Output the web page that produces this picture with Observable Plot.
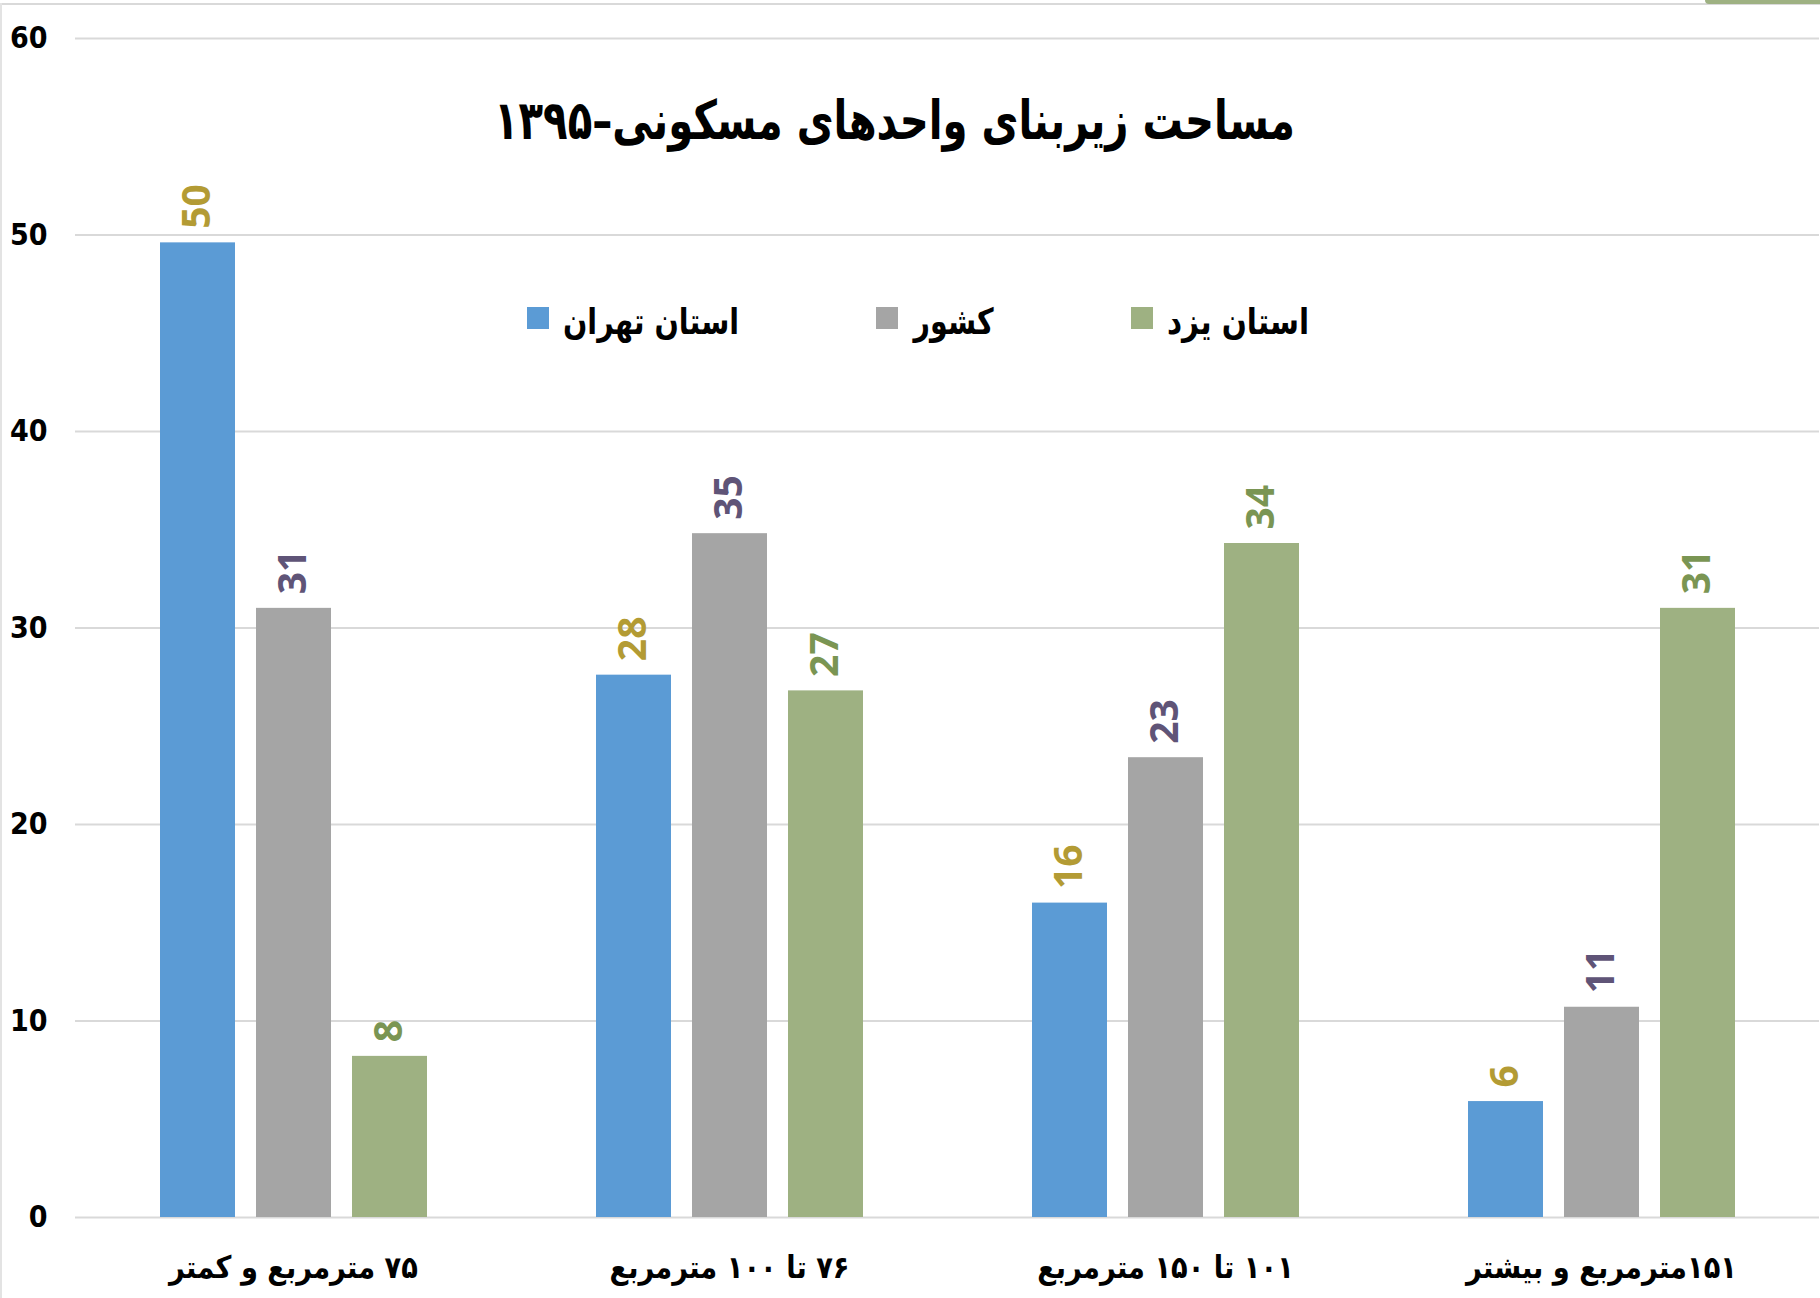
<!DOCTYPE html>
<html>
<head>
<meta charset="utf-8">
<script src="https://cdn.jsdelivr.net/npm/d3@7"></script>
<script src="https://cdn.jsdelivr.net/npm/@observablehq/plot@0.6"></script>
<style>
  html, body { margin: 0; padding: 0; background: #fff; }
  #wrap { position: relative; width: 1820px; height: 1298px; overflow: hidden; }
  #topline { position: absolute; left: 0; top: 3px; width: 1820px; height: 2px; background: #d9d9d9; }
  #leftline { position: absolute; left: 0; top: 3px; width: 2px; height: 1295px; background: #e3e3e3; }
  #corner { position: absolute; left: 1705px; top: 0; width: 120px; height: 4px; background: #9EB182; border-bottom-left-radius: 8px; }
</style>
</head>
<body>
<div id="wrap">
  <div id="chart"></div>
  <div id="topline"></div>
  <div id="leftline"></div>
  <div id="corner"></div>
</div>
<script>
const categories = ["۷۵ مترمربع و کمتر", "۷۶ تا ۱۰۰ مترمربع", "۱۰۱ تا ۱۵۰ مترمربع", "۱۵۱مترمربع و بیشتر"];
const seriesNames = ["استان تهران", "کشور", "استان یزد"];
const tehran = [49.6, 27.6, 16.0, 5.9];
const country = [31.0, 34.8, 23.4, 10.7];
const yazd = [8.2, 26.8, 34.3, 31.0];
const yTicks = [0, 10, 20, 30, 40, 50, 60];
const barColors = ["#5B9BD5", "#A5A5A5", "#9EB182"];
const labelColors = ["#B39B34", "#5F5477", "#7A9553"];
const titleText = "مساحت زیربنای واحدهای مسکونی–۱۳۹۵";

const seriesValues = [tehran, country, yazd];
const data = [];
categories.forEach((c, i) => {
  seriesNames.forEach((s, j) => {
    data.push({cat: c, series: s, value: seriesValues[j][i]});
  });
});
const fmt = d3.format(".0f");

const labelMarks = seriesNames.map((s, j) =>
  Plot.text(data.filter(d => d.series === s), {
    fx: "cat", x: "series", y: "value",
    text: d => fmt(d.value),
    rotate: -90, textAnchor: "start", lineAnchor: "middle", dy: -14,
    fill: labelColors[j], fontSize: 39, fontWeight: "bold",
    fontFamily: "'Open Sans', 'Lato', sans-serif"
  })
);

const chart = Plot.plot({
  width: 1820, height: 1298,
  marginTop: 38, marginBottom: 81, marginLeft: 73, marginRight: 0,
  style: {background: "transparent", fontFamily: "'DejaVu Sans', sans-serif"},
  fx: {domain: categories, padding: 0, label: null, axis: null},
  x: {domain: seriesNames, paddingInner: 0.222, paddingOuter: 0.864, axis: null},
  y: {domain: [0, 60], axis: null},
  color: {domain: seriesNames, range: barColors},
  marks: [
    Plot.gridY(yTicks, {stroke: "#d9d9d9", strokeOpacity: 1, strokeWidth: 2}),
    Plot.axisY(yTicks, {
      tickSize: 0, tickPadding: 28, fontSize: 30, fontWeight: "bold",
      fontFamily: "'Liberation Sans Narrow', 'DejaVu Sans Condensed', sans-serif",
      fill: "#000", label: null
    }),
    Plot.axisFx({
      anchor: "bottom", tickSize: 0, tickPadding: 38, fontSize: 31, fontWeight: "bold",
      fontFamily: "'DejaVu Sans', sans-serif", fill: "#000", label: null
    }),
    Plot.barY(data, {fx: "cat", x: "series", y: "value", fill: "series"}),
    ...labelMarks
  ]
});

document.getElementById("chart").appendChild(chart);

const svg = d3.select(chart);
// RTL text direction for Persian labels, slightly condensed like the original
svg.selectAll("text").each(function () {
  if (/[\u0600-\u06FF]/.test(this.textContent)) {
    const t = d3.select(this).attr("direction", "rtl").style("unicode-bidi", "embed");
    const L = this.getComputedTextLength();
    t.attr("textLength", L * 0.88).attr("lengthAdjust", "spacingAndGlyphs");
  }
});

// place a text so that its bbox spans [left, left+width] horizontally, centered at cy
function fitText(node, left, width, cy) {
  const sel = d3.select(node);
  sel.attr("textLength", width).attr("lengthAdjust", "spacingAndGlyphs");
  const bb = node.getBBox();
  sel.attr("transform", `translate(${left - bb.x},${cy - (bb.y + bb.height / 2)})`);
}

// Title
const title = svg.append("text")
  .attr("x", 0).attr("y", 0)
  .attr("direction", "rtl").style("unicode-bidi", "embed")
  .attr("font-family", "'DejaVu Sans', sans-serif")
  .attr("font-weight", "bold").attr("font-size", 54)
  .attr("fill", "#000")
  .text(titleText);
fitText(title.node(), 494, 801, 120);

// Legend
const legendSwatchX = [527, 876, 1131];
const legendTextWidth = [176, 80, 142];
seriesNames.forEach((s, j) => {
  svg.append("rect")
    .attr("x", legendSwatchX[j]).attr("y", 307)
    .attr("width", 22).attr("height", 22)
    .attr("fill", barColors[j]);
  const t = svg.append("text")
    .attr("x", 0).attr("y", 0)
    .attr("direction", "rtl").style("unicode-bidi", "embed")
    .attr("font-family", "'DejaVu Sans', sans-serif")
    .attr("font-weight", "bold").attr("font-size", 36)
    .attr("fill", "#000")
    .text(s);
  fitText(t.node(), legendSwatchX[j] + 36, legendTextWidth[j], 322);
});
</script>
</body>
</html>
